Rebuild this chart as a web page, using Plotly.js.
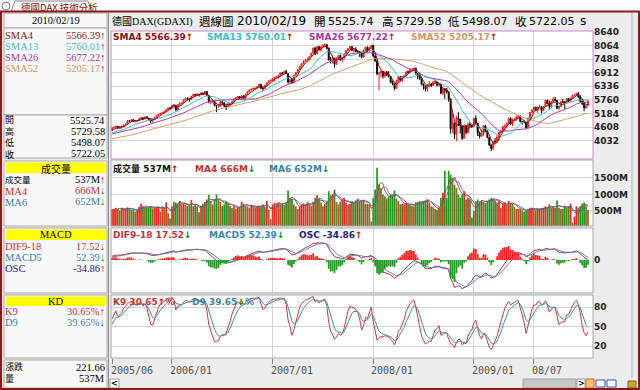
<!DOCTYPE html>
<html>
<head>
<meta charset="utf-8">
<script src="https://cdn.plot.ly/plotly-3.0.1.min.js"></script>
<style>
html,body{margin:0;padding:0;background:#fff;overflow:hidden;}
#chart{width:640px;height:390px;}
</style>
</head>
<body>
<div id="chart"></div>
<script>
// ---------------- data ----------------
const firstWeek = '2005-06-03';            // weekly candles, Fridays
const preCloses = [4000,4010,4040,4050,4000,3920,3900,3850,3900,3750,3690,3720,3790,3850,3880,3920,3880,3930,3940,3900,3830,3960,4000,4050,4090,4110,4130,4140,4200,4250,4250,4210,4200,4230,4250,4300,4350,4360,4350,4400,4360,4380,4330,4350,4360,4290,4260,4300,4350,4400,4440,4470];
const closes = [
4580,4600,4640,4560,4620,4620,4700,4720,4880,4870,4920,4850,4870,4880,4960,5000,4950,5040,4990,4920,4860,4930,5020,5100,5150,5190,5210,5260,5350,5420,5410,
5530,5510,5330,5560,5600,5630,5760,5830,5800,5780,5910,5990,5970,6000,5980,6050,6010,6110,5950,5680,5700,5700,5530,5490,5500,5680,5630,5500,5470,5600,5590,5690,5800,5860,5900,5830,5930,5820,6000,6100,6180,6220,6250,6250,6310,6420,6250,6240,6380,6480,6560,6600,
6650,6720,6730,6780,6900,6880,6960,6870,6520,6610,6490,6810,6920,7050,7190,7290,7400,7450,7470,7600,7740,7960,7710,8010,7880,8010,8080,8100,7950,7450,7450,7530,7270,7550,7640,7450,7530,7690,7860,7930,8020,7860,7900,7810,7810,7720,7570,7870,7990,7830,7990,8070,
7610,7410,6870,6900,6970,6770,6930,6830,6750,6510,6440,6240,6560,6740,6600,6740,6780,6950,6940,7050,7060,7100,6880,6760,6690,6420,6350,6230,6400,6420,6380,6520,6550,6380,6420,6040,6230,6180,6100,5800,4540,4780,4300,4990,4950,4650,4130,4670,4380,4730,4700,4630,
4980,4780,4360,4220,4340,4670,4450,4170,3840,3700,4000,3990,4190,4380,4450,4630,4660,4770,4970,4740,4930,4940,5050,5070,4840,4840,4800,4580,4980,5230,5330,5450,5310,5460,5460,5300,5470,5750,5600,5480,5680,5790,5740,5410,5480,5680,5660,5650,5820,5710,5830,5960,
5960,6040,5880,5700,5610,5430,5500,5722.05];
const highs = [
4600,4630,4670,4660,4640,4660,4720,4760,4900,4910,4950,4930,4900,4900,4990,5040,5020,5060,5080,5000,4940,4960,5040,5120,5170,5210,5250,5290,5370,5430,5440,
5550,5580,5560,5590,5680,5660,5780,5850,5870,5840,5930,6010,6020,6050,6010,6080,6070,6140,6140,5960,5760,5760,5700,5540,5580,5700,5720,5660,5530,5640,5640,5720,5830,5880,5920,5920,5950,5960,6020,6120,6200,6240,6280,6280,6330,6440,6420,6310,6400,6500,6580,6620,
6690,6740,6790,6800,6920,6940,6990,7040,6890,6640,6690,6830,6940,7070,7200,7300,7440,7500,7530,7620,7760,7970,7990,8030,8050,8020,8110,8150,8110,7980,7590,7650,7480,7570,7660,7680,7560,7750,7880,7960,8050,8030,7950,7990,7870,7810,7760,7880,8000,8030,8010,8100,
8080,7680,7450,6950,7000,6980,6990,6990,6980,6730,6580,6450,6610,6760,6780,6760,6800,6960,7000,7070,7110,7120,7120,6900,6800,6660,6460,6350,6420,6560,6480,6560,6620,6550,6470,6440,6270,6250,6270,6130,5800,5190,4820,5090,5240,4950,4680,4740,4680,4820,4830,4710,
4990,5110,4780,4420,4500,4680,4710,4460,4170,3900,4030,4150,4270,4420,4480,4660,4720,4800,5010,5030,4970,5000,5100,5130,5100,4880,4900,4800,5000,5250,5350,5470,5460,5470,5570,5500,5500,5760,5760,5730,5700,5880,5880,5740,5510,5700,5810,5720,5840,5840,5860,5970,
5980,6060,6100,5960,5740,5640,5540,5729.58];
const lows = [
4460,4540,4580,4540,4530,4540,4610,4660,4720,4830,4830,4820,4800,4800,4880,4950,4900,4940,4960,4880,4780,4800,4920,5010,5070,5130,5180,5200,5250,5340,5380,
5400,5480,5300,5300,5520,5560,5620,5740,5760,5680,5780,5900,5930,5930,5900,5960,5960,6000,5920,5620,5570,5620,5480,5240,5430,5480,5600,5450,5330,5450,5520,5560,5680,5780,5840,5800,5820,5800,5820,5990,6080,6160,6190,6170,6230,6300,6230,6130,6250,6380,6470,6540,
6550,6530,6680,6660,6760,6840,6860,6850,6450,6430,6440,6470,6780,6900,7050,7100,7280,7380,7360,7430,7580,7730,7660,7700,7860,7800,7980,8000,7900,7430,7300,7300,7120,7300,7460,7420,7340,7480,7680,7840,7900,7820,7760,7780,7710,7580,7520,7600,7800,7780,7810,7960,
7590,7370,6800,6160,6700,6660,6700,6760,6720,6470,6380,6170,6230,6500,6580,6520,6700,6780,6880,6900,6960,6980,6830,6630,6610,6380,6200,6120,6100,6340,6310,6350,6440,6330,6320,6000,5960,5800,6030,5680,4330,4370,4100,4010,4650,4330,4070,4130,4300,4330,4600,4580,
4600,4720,4230,4130,4200,4240,4390,4130,3820,3590,3630,3910,3950,4020,4300,4400,4450,4580,4760,4700,4650,4860,4880,4980,4810,4710,4770,4550,4550,4970,5200,5260,5290,5200,5430,5200,5290,5450,5580,5370,5430,5680,5700,5380,5330,5460,5620,5360,5600,5660,5690,5830,
5900,5920,5860,5650,5540,5280,5380,5498.07];
const volumes = [ // millions
560,570,600,560,520,600,560,560,610,580,530,540,480,500,620,720,640,620,600,610,650,580,600,620,640,480,640,600,760,430,270,
640,780,750,720,800,700,710,690,650,680,830,650,690,640,460,650,720,770,850,990,800,700,860,1000,830,780,650,700,790,720,650,600,640,560,600,620,780,720,650,640,600,680,640,610,640,660,650,700,620,810,540,260,
700,750,740,760,700,720,690,760,1120,900,880,700,640,560,640,700,730,700,760,720,650,780,900,980,860,760,640,700,780,1100,980,1000,1150,780,700,780,860,900,740,700,720,780,760,820,870,780,800,840,720,720,700,180,
900,1150,1810,1300,1200,1000,950,880,930,1000,1000,1120,880,800,700,720,700,740,700,680,660,640,760,780,800,780,800,820,860,760,640,620,560,540,600,900,1050,1720,900,1720,1600,1500,1300,1200,1000,900,1000,1100,850,900,850,300,
500,800,850,800,820,780,740,800,850,900,880,820,760,800,600,720,760,680,800,740,720,620,560,560,560,520,480,500,560,600,600,560,520,560,560,580,600,640,600,700,600,620,600,820,600,560,560,660,600,640,720,150,
330,640,600,650,720,760,640,537];
const lastOpen = 5525.74;
const dateTicks = ['2005-06-03','2006-01-06','2007-01-05','2008-01-04','2009-01-02','2009-08-07'];
const dateTickLabels = ['2005/06','2006/01','2007/01','2008/01','2009/01','08/07'];
const priceTicks = [8640,8064,7488,6912,6336,5760,5184,4608,4032];
const volTicks = [500,1000,1500];
const volTickLabels = ['500M','1000M','1500M'];
const kdTicks = [20,50,80];

// ---------------- derived series ----------------
const N = closes.length;
const t0 = new Date(firstWeek + 'T00:00:00Z').getTime();
const dates = closes.map((_, i) => new Date(t0 + i * 7 * 86400000).toISOString().slice(0, 10));
const P = preCloses.length;
const allCloses = preCloses.concat(closes);
const opens = closes.map((c, i) => i === N - 1 ? lastOpen : allCloses[P + i - 1]);
function sma(n) { return closes.map((c, i) => { let s = 0; for (let k = P + i - n + 1; k <= P + i; k++) s += allCloses[k]; return s / n; }); }
function ema(arr, n) { const a = 2 / (n + 1); const out = []; let e = arr[0]; arr.forEach((v, i) => { e = i === 0 ? v : e + a * (v - e); out.push(e); }); return out; }
const e9 = ema(allCloses, 9), e18 = ema(allCloses, 18);
const difAll = e9.map((v, i) => v - e18[i]);
const macdAll = ema(difAll, 5);
const dif = difAll.slice(P), macd5 = macdAll.slice(P);
const osc = dif.map((v, i) => v - macd5[i]);
function volMA(n) { return volumes.map((v, i) => { if (i < n - 1) return null; let s = 0; for (let k = i - n + 1; k <= i; k++) s += volumes[k]; return s / n; }); }
let K = 50, D = 50; const kArr = [], dArr = [];
closes.forEach((c, i) => {
  const a = Math.max(0, i - 8);
  const hi = Math.max(...highs.slice(a, i + 1)), lo = Math.min(...lows.slice(a, i + 1));
  const rsv = hi > lo ? (c - lo) / (hi - lo) * 100 : 50;
  K = K * 2 / 3 + rsv / 3; D = D * 2 / 3 + K / 3; kArr.push(K); dArr.push(D);
});
const RED = '#ff2020', GREEN = '#1f9a1f', BROWN = '#a0622a';
const volColors = volumes.map((v, i) => closes[i] < opens[i] ? GREEN : (i > 0 && v < volumes[i - 1] ? BROWN : RED));
const oscColors = osc.map(v => v >= 0 ? '#ff2020' : '#1f9a1f');
let lineMin = 0, oscMin = 0;
dif.concat(macd5).forEach(v => { if (isFinite(v) && v < lineMin) lineMin = v; });
osc.forEach(v => { if (isFinite(v) && v < oscMin) oscMin = v; });
const mUnit = -lineMin / 29;   // MACD lines: deepest point 29 px under zero
const oUnit = -oscMin / 22;    // OSC histogram drawn on its own scale

// ---------------- traces ----------------
const line = (y, color, axis, w) => ({ type: 'scatter', mode: 'lines', x: dates, y, yaxis: axis, line: { color, width: w || 1 }, hoverinfo: 'skip' });
const traces = [
  line(sma(52), '#d8a070', 'y'),
  line(sma(26), '#a840a8', 'y'),
  line(sma(13), '#3cc0c8', 'y'),
  line(sma(4), '#8b1010', 'y'),
  { type: 'candlestick', x: dates, open: opens, high: highs, low: lows, close: closes, yaxis: 'y',
    increasing: { line: { color: '#ff2020', width: 1 }, fillcolor: '#ff2020' },
    decreasing: { line: { color: '#000000', width: 1 }, fillcolor: '#000000' }, whiskerwidth: 0, hoverinfo: 'skip' },
  { type: 'bar', x: dates, y: volumes, yaxis: 'y2', marker: { color: volColors, line: { width: 0 } }, hoverinfo: 'skip' },
  line(volMA(4), '#b03a3a', 'y2', 0.9),
  line(volMA(6), '#4a6f9a', 'y2', 0.9),
  { type: 'bar', x: dates, y: osc, yaxis: 'y5', marker: { color: oscColors, line: { width: 0 } }, hoverinfo: 'skip' },
  line(dif, '#a83050', 'y3', 1),
  line(macd5, '#6a80a8', 'y3', 1),
  line(kArr, '#d03a3a', 'y4', 1),
  line(dArr, '#3a90b0', 'y4', 1)
];

// ---------------- layout helpers ----------------
const W = 640, H = 390;
const px = x => x / W, py = y => 1 - y / H;
const SANS = 'DejaVu Sans, Noto Sans CJK TC, sans-serif';
const SERIF = 'Liberation Serif, Noto Sans CJK TC, serif';
const CJK = 'Noto Sans CJK TC, sans-serif';
const UP = '<span style="color:#e00000">↑</span>';
const DN = '<span style="color:#008a00">↓</span>';
function rect(x0, y0, x1, y1, fill, lc, lw, layer) {
  return { type: 'rect', xref: 'paper', yref: 'paper', x0: px(x0), x1: px(x1), y0: py(y1), y1: py(y0),
    fillcolor: fill || 'rgba(0,0,0,0)', line: { color: lc || 'rgba(0,0,0,0)', width: lc ? (lw || 1) : 0 }, layer: layer || 'above' };
}
function seg(x0, y0, x1, y1, c, w) {
  return { type: 'line', xref: 'paper', yref: 'paper', x0: px(x0), x1: px(x1), y0: py(y0), y1: py(y1), line: { color: c, width: w || 1 }, layer: 'above' };
}
function T(x, y, text, o) {
  o = o || {};
  return { xref: 'paper', yref: 'paper', x: px(x), y: py(y), text, showarrow: false, xanchor: o.a || 'left', yanchor: o.ya || 'middle',
    align: o.al || 'left', borderpad: 0, font: { family: o.f || SANS, size: o.s || 11, color: o.c || '#000', weight: o.w || 'normal' } };
}

const shapes = [
  rect(0, 0, 640, 11, '#ffffff', null, 0, 'below'),
  // left info panel sections
  rect(4, 13, 107, 28, '#f8f8f8', '#a8a8a8', 1, 'below'),
  rect(4, 28, 107, 115, '#f8f8f8', '#a8a8a8', 1, 'below'),
  rect(4, 115, 107, 158, '#f8f8f8', '#a8a8a8', 1, 'below'),
  rect(4, 161, 107, 226, '#f8f8f8', '#a8a8a8', 1, 'below'),
  rect(4, 228, 107, 293, '#f8f8f8', '#a8a8a8', 1, 'below'),
  rect(4, 295, 107, 358, '#f8f8f8', '#a8a8a8', 1, 'below'),
  rect(4, 360, 107, 388, '#f8f8f8', '#a8a8a8', 1, 'below'),
  rect(6, 162.5, 105, 173, '#ffff00', null, 0, 'below'),
  rect(6, 229.5, 105, 240, '#ffff00', null, 0, 'below'),
  rect(6, 296.5, 105, 306, '#ffff00', null, 0, 'below'),
  // panel boxes
  rect(111, 31, 593, 159, null, '#cc88cc', 1),
  rect(111, 160, 593, 226, null, '#a8a8a8', 1),
  rect(111, 228, 593, 293, null, '#a8a8a8', 1),
  rect(111, 295, 593, 358, null, '#a8a8a8', 1),
  seg(108.5, 12, 108.5, 388, '#909090', 1),
  seg(632, 12, 632, 378, '#b0b0b0', 1),
  // scroll bar
  rect(110, 379, 119, 388, '#ffffff', '#9a9a9a', 1),
  rect(523, 379, 576, 388, '#c8c8c8', '#a0a0a0', 1),
  rect(577, 379, 585, 388, '#ffffff', '#9a9a9a', 1),
  rect(586, 379, 594, 388, '#f4c070', '#c07020', 1),
  rect(596, 380, 605, 387, '#ffffff', '#3050c0', 1),
  rect(607, 380, 616, 387, '#ffffff', '#3050c0', 1),
  rect(628, 381, 636, 388, '#d0a030', '#806020', 1),
  // tab + frame
  { type: 'path', xref: 'paper', yref: 'paper', path: `M ${px(11)},${py(11.5)} L ${px(15)},${py(1)} L ${px(88)},${py(1)} L ${px(92)},${py(11.5)} Z`,
    fillcolor: '#f4f4f4', line: { color: '#8a8a8a', width: 1 }, layer: 'above' },
  { type: 'circle', xref: 'paper', yref: 'paper', x0: px(2), x1: px(10), y0: py(10), y1: py(2), fillcolor: '#f0f0f0', line: { color: '#808080', width: 1 }, layer: 'above' },
  rect(1, 11.5, 639, 389, null, '#8b1a1a', 2)
];

const annotations = [
  T(20, 6.5, '德國DAX 技術分析', { f: CJK, s: 9.5, c: '#8b1a1a' }),
  // header
  T(111, 21, '德國DAX(GDAXI)', { f: SERIF, s: 10 }),
  T(198, 21, '週線圖', { f: CJK, s: 11.5 }),
  T(236, 21, '2010/02/19', { s: 12 }),
  T(313, 21, '開', { f: CJK, s: 11.5 }), T(327, 21, '5525.74', { s: 11 }),
  T(381, 21, '高', { f: CJK, s: 11.5 }), T(395, 21, '5729.58', { s: 11 }),
  T(447, 21, '低', { f: CJK, s: 11.5 }), T(461, 21, '5498.07', { s: 11 }),
  T(514, 21, '收', { f: CJK, s: 11.5 }), T(528, 21, '5722.05', { s: 11 }), T(579, 21, 's', { s: 12 }),
  // in-plot legends
  T(112, 37, 'SMA4 5566.39' + UP, { s: 9, w: 'bold', c: '#8b1010' }),
  T(206, 37, 'SMA13 5760.01' + UP, { s: 9, w: 'bold', c: '#3cbcc8' }),
  T(308, 37, 'SMA26 5677.22' + UP, { s: 9, w: 'bold', c: '#a838a8' }),
  T(410, 37, 'SMA52 5205.17' + UP, { s: 9, w: 'bold', c: '#d8955e' }),
  T(112, 168.5, '成交量 537M' + UP, { s: 9, w: 'bold', c: '#111' }),
  T(194, 168.5, 'MA4 666M' + DN, { s: 9, w: 'bold', c: '#c83232' }),
  T(268, 168.5, 'MA6 652M' + DN, { s: 9, w: 'bold', c: '#3a80a8' }),
  T(112, 235, 'DIF9-18 17.52' + DN, { s: 9, w: 'bold', c: '#c83232' }),
  T(208, 235, 'MACD5 52.39' + DN, { s: 9, w: 'bold', c: '#3a88a8' }),
  T(298, 235, 'OSC -34.86' + UP, { s: 9, w: 'bold', c: '#1a1a80' }),
  T(112, 301.5, 'K9 30.65' + UP + '%', { s: 9, w: 'bold', c: '#c83232' }),
  T(191, 301.5, 'D9 39.65' + DN + '%', { s: 9, w: 'bold', c: '#3a88a8' }),
  // left panel
  T(55.5, 20.5, '2010/02/19', { a: 'center', f: SERIF, s: 10.5 }),
  T(4, 35.3, 'SMA4', { f: SERIF, s: 10.5, c: '#8b1a1a' }), T(106, 35.3, '5566.39' + UP, { a: 'right', f: SERIF, s: 10.5, c: '#8b1a1a' }),
  T(4, 46.5, 'SMA13', { f: SERIF, s: 10.5, c: '#3cbcc8' }), T(106, 46.5, '5760.01' + UP, { a: 'right', f: SERIF, s: 10.5, c: '#3cbcc8' }),
  T(4, 57.7, 'SMA26', { f: SERIF, s: 10.5, c: '#a838a8' }), T(106, 57.7, '5677.22' + UP, { a: 'right', f: SERIF, s: 10.5, c: '#a838a8' }),
  T(4, 68.9, 'SMA52', { f: SERIF, s: 10.5, c: '#d8955e' }), T(106, 68.9, '5205.17' + UP, { a: 'right', f: SERIF, s: 10.5, c: '#d8955e' }),
  T(4, 137, '開<br>高<br>低<br>收', { f: CJK, s: 9 }),
  T(106, 120.5, '5525.74', { a: 'right', f: SERIF, s: 10.5 }),
  T(106, 131.5, '5729.58', { a: 'right', f: SERIF, s: 10.5 }),
  T(106, 142.5, '5498.07', { a: 'right', f: SERIF, s: 10.5 }),
  T(106, 153.5, '5722.05', { a: 'right', f: SERIF, s: 10.5 }),
  T(55.5, 168, '成交量', { a: 'center', f: CJK, s: 10 }),
  T(4, 178.8, '成交量', { f: CJK, s: 8.5 }), T(106, 179.7, '537M' + UP, { a: 'right', f: SERIF, s: 10.5 }),
  T(4, 191, 'MA4', { f: SERIF, s: 10.5, c: '#c83232' }), T(106, 190.7, '666M' + DN, { a: 'right', f: SERIF, s: 10.5, c: '#c83232' }),
  T(4, 202, 'MA6', { f: SERIF, s: 10.5, c: '#3a80a8' }), T(106, 201.7, '652M' + DN, { a: 'right', f: SERIF, s: 10.5, c: '#3a80a8' }),
  T(55.5, 234.8, 'MACD', { a: 'center', f: SERIF, s: 10.5 }),
  T(4, 246, 'DIF9-18', { f: SERIF, s: 10.5, c: '#c83232' }), T(106, 246, '17.52' + DN, { a: 'right', f: SERIF, s: 10.5, c: '#c83232' }),
  T(4, 257, 'MACD5', { f: SERIF, s: 10.5, c: '#3a80a8' }), T(106, 257, '52.39' + DN, { a: 'right', f: SERIF, s: 10.5, c: '#3a80a8' }),
  T(4, 268, 'OSC', { f: SERIF, s: 10.5, c: '#1a1a80' }), T(106, 268, '-34.86' + UP, { a: 'right', f: SERIF, s: 10.5, c: '#1a1a80' }),
  T(55.5, 301.2, 'KD', { a: 'center', f: SERIF, s: 10.5 }),
  T(4, 311.5, 'K9', { f: SERIF, s: 10.5, c: '#c83232' }), T(106, 311.5, '30.65%' + UP, { a: 'right', f: SERIF, s: 10.5, c: '#c83232' }),
  T(4, 322.5, 'D9', { f: SERIF, s: 10.5, c: '#3a80a8' }), T(106, 322.5, '39.65%' + DN, { a: 'right', f: SERIF, s: 10.5, c: '#3a80a8' }),
  T(4, 372.5, '漲跌<br>量', { f: CJK, s: 9 }),
  T(106, 367, '221.66', { a: 'right', f: SERIF, s: 10.5 }),
  T(106, 378, '537M', { a: 'right', f: SERIF, s: 10.5 }),
  T(114.5, 383.5, '<', { a: 'center', s: 8, w: 'bold' }),
  T(581, 383.5, '>', { a: 'center', s: 8, w: 'bold' })
];
// date labels under the x axis
dateTicks.forEach((d, i) => annotations.push({ xref: 'x', yref: 'paper', x: d, y: py(370), xanchor: 'left', yanchor: 'middle', xshift: i === 0 ? -2 : -3,
  text: dateTickLabels[i], showarrow: false, borderpad: 0, font: { family: 'DejaVu Sans Mono, monospace', size: 10, color: '#505050' } }));

const tickFont = { family: SANS, size: 9, weight: 'bold', color: '#222' };
const yCommon = { side: 'right', anchor: 'x', showgrid: true, gridcolor: '#d6d6d6', gridwidth: 1, zeroline: false, ticks: '', showline: false, tickfont: tickFont, fixedrange: true };
const layout = {
  width: W, height: H, margin: { l: 0, r: 0, t: 0, b: 0, pad: 0, autoexpand: false },
  paper_bgcolor: '#ececec', plot_bgcolor: '#ffffff', showlegend: false, hovermode: false,
  bargap: 0.1,
  xaxis: { type: 'date', domain: [px(111), px(593)], range: ['2005-05-30 09:00', '2010-03-09 02:00'], anchor: 'y4',
    showgrid: true, gridcolor: '#d6d6d6', tickvals: dateTicks, showticklabels: false, ticks: 'outside', ticklen: 5, tickcolor: '#808080',
    zeroline: false, showline: false, rangeslider: { visible: false }, fixedrange: true },
  yaxis: Object.assign({}, yCommon, { domain: [py(159), py(31)], range: [3257, 8678], tickvals: priceTicks, ticktext: priceTicks.map(String) }),
  yaxis2: Object.assign({}, yCommon, { domain: [py(226), py(160)], range: [45, 2045], tickvals: volTicks, ticktext: volTickLabels }),
  yaxis3: Object.assign({}, yCommon, { domain: [py(293), py(228)], range: [-33 * mUnit, 32 * mUnit], tickvals: [0], ticktext: ['0'], showgrid: false }),
  yaxis4: Object.assign({}, yCommon, { domain: [py(358), py(295)], range: [1.4, 99.1], tickvals: kdTicks, ticktext: kdTicks.map(String) }),
  yaxis5: { overlaying: 'y3', side: 'left', anchor: 'x', range: [-33 * oUnit, 32 * oUnit], showgrid: false, zeroline: false, showticklabels: false, ticks: '', showline: false, fixedrange: true },
  shapes, annotations
};
Plotly.newPlot('chart', traces, layout, { staticPlot: true, displayModeBar: false });
</script>
</body>
</html>
